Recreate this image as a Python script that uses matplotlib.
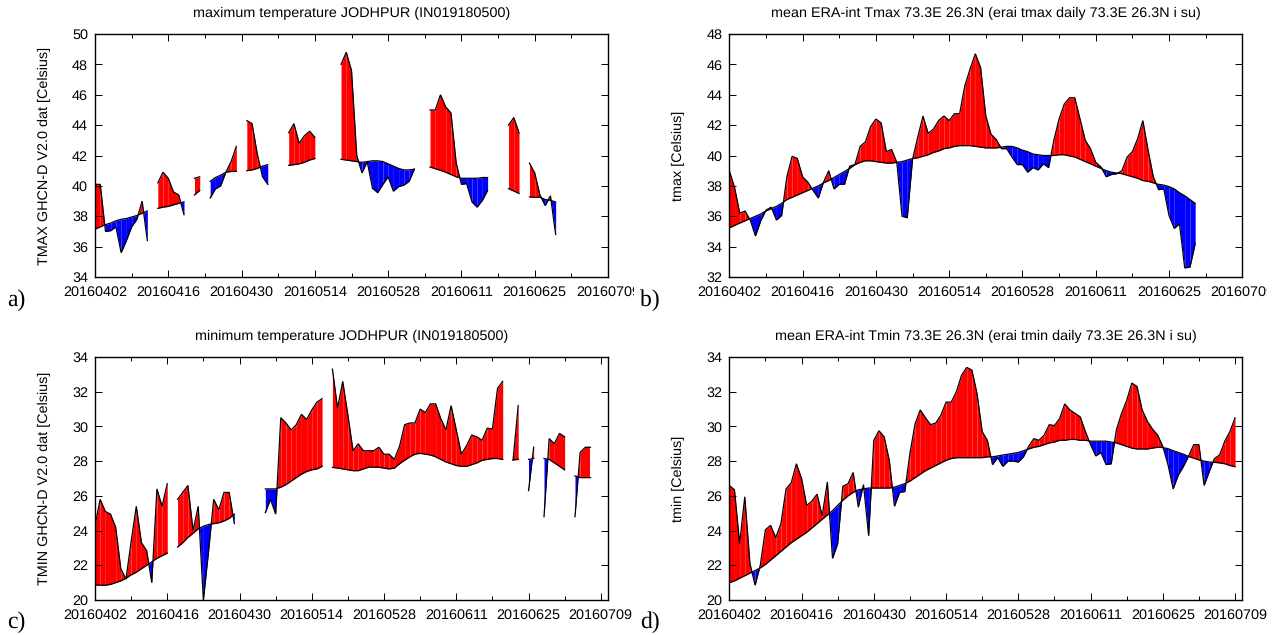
#!/usr/bin/env python

'''
    Observed and ERA-interim temperature against climatology, Jodhpur 2016
'''

import numpy as np
import matplotlib
matplotlib.use('Agg')
import matplotlib.pyplot as plt
from matplotlib.transforms import Bbox

nan = np.nan

WIDTH  = 1285
HEIGHT = 635

TICK_LABELS = ['20160402', '20160416', '20160430', '20160514', '20160528',
               '20160611', '20160625', '20160709']

tmax_obs = [
    40.1, 40.1, 37.0, 37.05, 37.3, 35.6, 36.4, 37.3, 37.8, 39.0,
    36.4, nan, 40.2, 40.9, 40.5, 39.6, 39.4, 38.1, nan, 40.5,
    40.6, nan, 39.2, 39.8, 40.0, 40.9, 41.6, 42.6, nan, 44.3,
    44.1, 42.1, 40.6, 40.1, nan, nan, nan, 43.5, 44.1, 42.8,
    43.3, 43.6, 43.2, nan, nan, nan, nan, 48.0, 48.8, 47.6,
    42.0, 40.85, 41.6, 39.85, 39.55, 40.1, 40.6, 39.65, 39.95, 40.05,
    40.3, 41.1, nan, nan, 45.0, 45.0, 46.0, 45.2, 44.8, 41.5,
    40.1, 40.15, 38.95, 38.6, 39.05, 39.7, nan, nan, nan, 44.0,
    44.5, 43.5, nan, 41.5, 40.85, 39.4, 38.7, 39.35, 36.8]
tmax_obs_clim = [
    37.15, 37.3, 37.45, 37.55, 37.7, 37.8, 37.85, 37.95, 38.05, 38.2,
    38.35, nan, 38.52, 38.6, 38.65, 38.75, 38.85, 38.95, nan, 39.4,
    39.7, nan, 40.3, 40.55, 40.7, 40.9, 40.95, 40.95, nan, 41.0,
    41.05, 41.15, 41.3, 41.4, nan, nan, nan, 41.35, 41.4, 41.45,
    41.55, 41.7, 41.8, nan, nan, nan, nan, 41.75, 41.7, 41.65,
    41.6, 41.55, 41.6, 41.65, 41.65, 41.6, 41.45, 41.3, 41.15, 41.05,
    41.05, 41.1, nan, nan, 41.24, 41.13, 41.02, 40.9, 40.75, 40.6,
    40.5, 40.5, 40.5, 40.5, 40.55, 40.55, nan, nan, nan, 39.82,
    39.66, 39.5, nan, 39.27, 39.25, 39.25, 39.1, 39.05, 38.94]

tmax_era = [
    39.0, 37.9, 36.2, 36.35, 35.75, 34.7, 35.7, 36.4, 36.6, 35.75,
    36.05, 38.6, 39.95, 39.8, 38.6, 38.25, 37.7, 37.2, 38.25, 39.0,
    37.8, 38.1, 38.1, 39.3, 39.4, 40.6, 40.9, 41.9, 42.4, 42.15,
    40.25, 40.4, 39.55, 36.0, 35.9, 39.75, 41.2, 42.6, 41.45, 41.75,
    42.3, 42.6, 42.3, 42.75, 42.75, 44.6, 45.7, 46.7, 45.8, 42.6,
    41.4, 41.05, 40.45, 40.45, 39.9, 39.4, 39.4, 38.9, 39.2, 39.05,
    39.45, 39.2, 41.0, 42.4, 43.4, 43.8, 43.8, 42.4, 41.0, 40.45,
    39.55, 39.25, 38.6, 38.75, 38.8, 39.0, 39.9, 40.25, 41.1, 42.3,
    40.35, 38.6, 37.75, 37.8, 36.05, 35.2, 35.5, 32.6, 32.65, 34.2]
tmax_era_clim = [
    35.23, 35.4, 35.55, 35.7, 35.85, 36.0, 36.15, 36.35, 36.5, 36.65,
    36.85, 37.1, 37.25, 37.4, 37.55, 37.7, 37.85, 38.0, 38.2, 38.35,
    38.55, 38.75, 38.95, 39.15, 39.4, 39.55, 39.65, 39.65, 39.6, 39.55,
    39.5, 39.5, 39.55, 39.6, 39.7, 39.8, 39.85, 39.95, 40.05, 40.2,
    40.3, 40.45, 40.5, 40.6, 40.65, 40.65, 40.65, 40.6, 40.55, 40.5,
    40.5, 40.5, 40.55, 40.6, 40.6, 40.5, 40.35, 40.25, 40.1, 40.05,
    40.0, 40.0, 40.0, 40.05, 40.05, 39.97, 39.9, 39.75, 39.6, 39.45,
    39.3, 39.15, 39.0, 38.9, 38.85, 38.8, 38.7, 38.6, 38.5, 38.35,
    38.3, 38.2, 38.1, 38.05, 37.95, 37.8, 37.55, 37.35, 37.1, 36.85]

tmin_obs = [
    24.3, 25.8, 25.1, 24.95, 24.2, 21.8, 21.2, 23.35, 25.4, 23.3,
    22.85, 21.0, 26.4, 25.4, 26.7, nan, 25.8, 26.2, 26.6, 24.0,
    25.4, 20.0, 22.8, 25.8, 25.2, 26.2, 26.2, 24.4, nan, nan,
    nan, nan, nan, 25.03, 25.8, 24.95, 30.5, 30.2, 29.8, 30.1,
    30.7, 30.4, 30.95, 31.4, 31.6, nan, 33.3, 31.05, 32.6, 30.65,
    28.6, 29.0, 28.6, 28.6, 28.6, 28.8, 28.4, 28.4, 28.1, 28.85,
    30.1, 30.2, 30.2, 31.0, 30.8, 31.3, 31.3, 30.45, 29.8, 31.2,
    29.8, 28.4, 28.9, 29.5, 29.4, 29.2, 29.9, 29.85, 32.2, 32.6,
    nan, 28.05, 31.2, nan, 26.3, 28.8, nan, 24.8, 29.3, 29.0,
    29.6, 29.4, nan, 24.8, 28.5, 28.8, 28.8]
tmin_obs_clim = [
    20.87, 20.85, 20.85, 20.9, 21.0, 21.1, 21.25, 21.45, 21.6, 21.8,
    22.0, 22.2, 22.4, 22.55, 22.7, nan, 23.05, 23.3, 23.6, 23.85,
    24.1, 24.25, 24.35, 24.4, 24.45, 24.55, 24.7, 24.95, nan, nan,
    nan, nan, nan, 26.4, 26.4, 26.4, 26.5, 26.65, 26.85, 27.05,
    27.25, 27.4, 27.5, 27.55, 27.7, nan, 27.64, 27.6, 27.55, 27.5,
    27.45, 27.45, 27.55, 27.65, 27.65, 27.65, 27.6, 27.55, 27.6, 27.85,
    28.05, 28.25, 28.4, 28.45, 28.4, 28.35, 28.25, 28.1, 27.95, 27.85,
    27.75, 27.7, 27.7, 27.8, 27.9, 28.05, 28.1, 28.15, 28.15, 28.1,
    nan, 28.07, 28.1, nan, 28.1, 28.15, nan, 28.15, 28.1, 27.9,
    27.7, 27.5, nan, 27.15, 27.05, 27.05, 27.05]

tmin_era = [
    26.6, 26.35, 23.25, 25.95, 22.1, 20.85, 22.0, 24.05, 24.3, 23.6,
    24.4, 26.4, 26.75, 27.85, 27.0, 25.45, 25.7, 26.1, 24.85, 26.8,
    22.4, 23.25, 26.55, 26.7, 27.35, 25.35, 26.65, 23.7, 29.2, 29.75,
    29.4, 28.05, 25.4, 26.2, 26.25, 28.45, 30.15, 30.95, 30.5, 30.1,
    30.2, 30.65, 31.4, 31.4, 32.0, 32.95, 33.4, 33.25, 31.9, 29.7,
    29.2, 27.8, 28.2, 27.7, 28.0, 28.0, 27.95, 28.25, 28.85, 29.3,
    29.2, 29.5, 30.1, 30.05, 30.45, 31.3, 30.95, 30.75, 30.55, 29.7,
    28.95, 28.3, 28.5, 27.8, 27.85, 29.8, 30.75, 31.5, 32.5, 32.3,
    30.95, 30.3, 29.85, 29.5, 28.85, 27.8, 26.4, 27.2, 27.7, 28.3,
    28.95, 28.95, 26.6, 27.4, 28.15, 28.35, 29.15, 29.7, 30.5]
tmin_era_clim = [
    21.0, 21.1, 21.25, 21.4, 21.55, 21.7, 21.85, 22.05, 22.3, 22.55,
    22.8, 23.05, 23.3, 23.5, 23.7, 23.9, 24.15, 24.4, 24.65, 24.9,
    25.15, 25.45, 25.75, 26.0, 26.2, 26.35, 26.4, 26.45, 26.45, 26.45,
    26.45, 26.45, 26.5, 26.6, 26.7, 26.85, 27.05, 27.25, 27.45, 27.6,
    27.75, 27.9, 28.05, 28.15, 28.2, 28.2, 28.2, 28.2, 28.2, 28.2,
    28.25, 28.25, 28.3, 28.35, 28.4, 28.45, 28.5, 28.6, 28.7, 28.8,
    28.85, 28.95, 29.05, 29.1, 29.2, 29.2, 29.25, 29.25, 29.2, 29.2,
    29.15, 29.15, 29.15, 29.15, 29.1, 29.05, 28.95, 28.85, 28.75, 28.7,
    28.7, 28.7, 28.75, 28.8, 28.78, 28.72, 28.6, 28.5, 28.4, 28.27,
    28.17, 28.07, 28.0, 27.95, 27.93, 27.9, 27.85, 27.75, 27.68]

FONT_SIZE = 10.4

plt.rcParams['font.family'] = ['Liberation Sans', 'DejaVu Sans']
plt.rcParams['text.hinting'] = 'no_hinting'


def fill_day(ax, d, o, c):
    '''
    Fill between two days, red where o is above c and blue below, split where they cross
    '''
    diff = o - c
    if diff[0]*diff[1] < 0:
        frac = diff[0]/(diff[0]-diff[1])
        xc = d[0] + frac
        yc = c[0] + frac*(c[1]-c[0])
        ax.fill_between([d[0], xc], [o[0], yc], [c[0], yc],
                        color='#ff0000' if diff[0] > 0 else '#0000ff', lw=0)
        ax.fill_between([xc, d[1]], [yc, o[1]], [yc, c[1]],
                        color='#ff0000' if diff[1] > 0 else '#0000ff', lw=0)
    else:
        ax.fill_between(d, o, c, color='#ff0000' if diff.sum() > 0 else '#0000ff', lw=0)


def draw_panel(box, obs, clim, ylim, title, ylabel, letter, letter_xy, xmax, label_clip=None):
    '''
    Draw one panel: box is (left,top,right,bottom) in pixels of the figure
    '''
    left, top, right, bottom = box
    ax = fig.add_axes([left/WIDTH, 1-bottom/HEIGHT, (right-left)/WIDTH, (bottom-top)/HEIGHT])
    obs = np.array(obs)
    clim = np.array(clim)
    days = np.arange(len(obs))

    # one polygon for each day, like the original: this leaves the thin pale seams
    for i in range(len(days)-1):
        o = obs[i:i+2]
        c = clim[i:i+2]
        if np.isnan(o).any() or np.isnan(c).any():
            continue
        fill_day(ax, days[i:i+2], o, c)

    ax.plot(days, obs, color='black', lw=0.9, solid_joinstyle='miter')
    ax.plot(days, clim, color='black', lw=0.9)

    ax.set_xlim(0, xmax)
    ax.set_ylim(*ylim)
    ax.set_xticks(np.arange(0, 99, 14))
    ax.set_xticks(np.arange(7, 99, 14), minor=True)
    ax.set_yticks(np.arange(ylim[0], ylim[1]+1, 2))
    ax.set_xticklabels(TICK_LABELS)
    ax.tick_params(axis='both', which='major', direction='in', length=5, width=0.7,
                   top=True, right=True, labelsize=FONT_SIZE, colors='black')
    ax.tick_params(axis='x', which='major', pad=6)
    ax.tick_params(axis='y', which='major', pad=5)
    ax.tick_params(axis='x', which='minor', direction='in', length=3, width=0.7, top=True)
    for spine in ax.spines.values():
        spine.set_linewidth(1.0)

    fig.text((left+right)/2/WIDTH, 1-(top-21)/HEIGHT, title, ha='center', va='center', fontsize=FONT_SIZE)
    fig.text((left-51)/WIDTH, 1-(top+bottom)/2/HEIGHT, ylabel, rotation=90,
             ha='center', va='center', fontsize=FONT_SIZE)
    fig.text(letter_xy[0]/WIDTH, 1-letter_xy[1]/HEIGHT, letter, family=['Liberation Serif'],
             fontsize=17, ha='left', va='baseline')

    # the last date label is cut off by the next picture in the top row
    if label_clip is not None:
        clip = Bbox([[0, 0], [label_clip, HEIGHT]])
        for label in ax.get_xticklabels():
            label.set_clip_box(clip)
            label.set_clip_on(True)
    return ax


fig = plt.figure(figsize=(WIDTH/100, HEIGHT/100), dpi=100)

draw_panel((95, 34, 608, 277), tmax_obs, tmax_obs_clim, (34, 50),
           'maximum temperature JODHPUR (IN019180500)', 'TMAX GHCN-D V2.0 dat [Celsius]',
           'a)', (7, 306), 98, label_clip=634)
draw_panel((729.3, 34, 1242.3, 277), tmax_era, tmax_era_clim, (32, 48),
           'mean ERA-int Tmax 73.3E 26.3N (erai tmax daily 73.3E 26.3N i su)', 'tmax [Celsius]',
           'b)', (640, 306), 98, label_clip=1267)
draw_panel((95, 357, 608, 600), tmin_obs, tmin_obs_clim, (20, 34),
           'minimum temperature JODHPUR (IN019180500)', 'TMIN GHCN-D V2.0 dat [Celsius]',
           'c)', (7, 628), 99.4)
draw_panel((729.3, 357, 1242.3, 600), tmin_era, tmin_era_clim, (20, 34),
           'mean ERA-int Tmin 73.3E 26.3N (erai tmin daily 73.3E 26.3N i su)', 'tmin [Celsius]',
           'd)', (640, 628), 99.4)

fig.savefig('out.png', dpi=100)
